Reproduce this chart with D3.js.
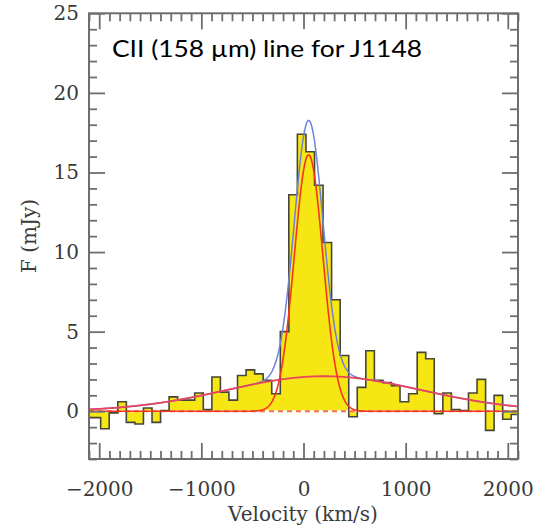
<!DOCTYPE html>
<html>
<head>
<meta charset="utf-8">
<script src="https://cdn.jsdelivr.net/npm/d3@7"></script>
<style>
  html, body { margin: 0; padding: 0; background: #fff; }
  svg { display: block; }
</style>
</head>
<body>
<svg id="chart" width="536" height="528"></svg>
<script>
// ---- data ----
const binWidth = 83.7; // km/s
const binCenters = [-2111, -2028, -1944, -1860, -1776, -1693, -1609, -1525, -1441, -1358,
  -1274, -1190, -1107, -1023, -939, -855, -772, -688, -604, -520,
  -437, -353, -269, -185, -102, -18, 66, 150, 233, 317,
  401, 485, 568, 652, 736, 820, 903, 987, 1071, 1155,
  1238, 1322, 1406, 1490, 1573, 1657, 1741, 1824, 1908, 1992, 2076];
const fluxValues = [-0.4, -0.4, -1.1, -0.1, 0.6, -0.7, -0.8, 0.2, -0.7, 0.05,
  0.9, 0.7, 0.7, 1.15, 0.1, 2.15, 1.2, 0.7, 2.25, 2.6,
  2.35, 1.95, 1.1, 5.0, 13.6, 17.4, 16.3, 14.2, 10.6, 7.0,
  3.5, -0.35, 1.5, 3.8, 1.95, 1.8, 1.6, 0.6, 1.1, 3.7,
  3.3, -0.15, 1.15, 0.1, 0.05, 1.15, 2.0, -1.2, 1.0, -0.5, -0.2];
// Gaussian fit components: [narrow, broad]
const fitAmps = [16.1, 2.2];
const fitCenters = [50, 200];
const fitSigmas = [140, 950];
const xTickLabels = [-2000, -1000, 0, 1000, 2000];
const yTickLabels = [0, 5, 10, 15, 20, 25];
const titleText = "CII (158 \u00b5m) line for J1148";

// ---- layout ----
const svg = d3.select("#chart");
const L = 89, R = 518, T = 13.3, B = 459;
const x = d3.scaleLinear().domain([-2100, 2100]).range([L, R]);
const y = d3.scaleLinear().domain([-3, 25]).range([B, T]);
const serif = "'DejaVu Serif', serif";
const axisCol = "#6e6e6e";

svg.append("defs").append("clipPath").attr("id", "plotclip")
  .append("rect").attr("x", L).attr("y", T).attr("width", R - L).attr("height", B - T);

const plot = svg.append("g").attr("clip-path", "url(#plotclip)");

// histogram step points
const pts = [];
binCenters.forEach((c, i) => {
  pts.push([c - binWidth / 2, fluxValues[i]]);
  pts.push([c + binWidth / 2, fluxValues[i]]);
});

plot.append("path")
  .datum(pts)
  .attr("d", d3.area().x(d => x(d[0])).y0(y(0)).y1(d => y(d[1])))
  .attr("fill", "#f6e614");

// zero line (dashed)
plot.append("line").attr("x1", L).attr("x2", R).attr("y1", y(0)).attr("y2", y(0))
  .attr("stroke", "#fff").attr("stroke-width", 2);
plot.append("line").attr("x1", L).attr("x2", R).attr("y1", y(0)).attr("y2", y(0))
  .attr("stroke", "#f2704a").attr("stroke-width", 2).attr("stroke-dasharray", "5,4");

plot.append("path")
  .datum(pts)
  .attr("d", d3.line().x(d => x(d[0])).y(d => y(d[1])))
  .attr("fill", "none")
  .attr("stroke", "#45453a")
  .attr("stroke-width", 1.6)
  .attr("stroke-linejoin", "miter");

// fit curves
const gauss = (v, k) => fitAmps[k] * Math.exp(-0.5 * Math.pow((v - fitCenters[k]) / fitSigmas[k], 2));
const vs = d3.range(-2100, 2101, 4);
const curveLine = d3.line().x(d => x(d[0])).y(d => y(d[1])).curve(d3.curveLinear);

plot.append("path")
  .datum(vs.map(v => [v, gauss(v, 0) + gauss(v, 1)]))
  .attr("d", curveLine).attr("fill", "none")
  .attr("stroke", "#6b82d6").attr("stroke-width", 1.5);
plot.append("path")
  .datum(vs.map(v => [v, gauss(v, 1)]))
  .attr("d", curveLine).attr("fill", "none")
  .attr("stroke", "#e8455c").attr("stroke-width", 1.8);
plot.append("path")
  .datum(vs.map(v => [v, gauss(v, 0)]))
  .attr("d", curveLine).attr("fill", "none")
  .attr("stroke", "#f5361c").attr("stroke-width", 1.6);

// ---- axes ----
const xMinor = d3.range(-2100, 2101, 100).filter(v => v % 1000 !== 0);
const yMinor = d3.range(-3, 26, 1).filter(v => v % 5 !== 0);
const yMajorAll = [0, 5, 10, 15, 20, 25];

function styleAxis(g) {
  g.select(".domain").remove();
  g.selectAll(".tick line").attr("stroke", axisCol).attr("stroke-width", 1.8);
  g.selectAll("text").attr("font-family", serif).attr("font-size", 20).attr("fill", "#3a3a3a");
}

// bottom
svg.append("g").attr("transform", `translate(0,${B})`)
  .call(d3.axisBottom(x).tickValues(xTickLabels).tickSizeInner(-16).tickSizeOuter(0).tickPadding(23)
    .tickFormat(d => d < 0 ? "\u2212" + Math.abs(d) : String(d)))
  .call(styleAxis);
svg.append("g").attr("transform", `translate(0,${B})`)
  .call(d3.axisBottom(x).tickValues(xMinor).tickSizeInner(-8).tickSizeOuter(0).tickFormat(""))
  .call(styleAxis);
// top
svg.append("g").attr("transform", `translate(0,${T})`)
  .call(d3.axisTop(x).tickValues(xTickLabels).tickSizeInner(-16).tickSizeOuter(0).tickFormat(""))
  .call(styleAxis);
svg.append("g").attr("transform", `translate(0,${T})`)
  .call(d3.axisTop(x).tickValues(xMinor).tickSizeInner(-8).tickSizeOuter(0).tickFormat(""))
  .call(styleAxis);
// left
svg.append("g").attr("transform", `translate(${L},0)`)
  .call(d3.axisLeft(y).tickValues(yTickLabels).tickSizeInner(-16).tickSizeOuter(0).tickPadding(10))
  .call(styleAxis);
svg.append("g").attr("transform", `translate(${L},0)`)
  .call(d3.axisLeft(y).tickValues(yMinor).tickSizeInner(-8).tickSizeOuter(0).tickFormat(""))
  .call(styleAxis);
// right
svg.append("g").attr("transform", `translate(${R},0)`)
  .call(d3.axisRight(y).tickValues(yMajorAll).tickSizeInner(-16).tickSizeOuter(0).tickFormat(""))
  .call(styleAxis);
svg.append("g").attr("transform", `translate(${R},0)`)
  .call(d3.axisRight(y).tickValues(yMinor).tickSizeInner(-8).tickSizeOuter(0).tickFormat(""))
  .call(styleAxis);

// frame
svg.append("rect").attr("x", L).attr("y", T).attr("width", R - L).attr("height", B - T)
  .attr("fill", "none").attr("stroke", axisCol).attr("stroke-width", 2);

// axis titles
svg.append("text").attr("x", 303).attr("y", 521).attr("text-anchor", "middle")
  .attr("font-family", serif).attr("font-size", 20).attr("fill", "#3a3a3a")
  .text("Velocity (km/s)");
svg.append("text").attr("transform", "translate(36,236) rotate(-90)").attr("text-anchor", "middle")
  .attr("font-family", serif).attr("font-size", 20).attr("fill", "#3a3a3a")
  .text("F (mJy)");

// title
svg.append("text").attr("x", 112).attr("y", 57)
  .attr("font-family", "Lato, 'Open Sans', sans-serif").attr("font-size", 24).attr("fill", "#000")
  .attr("textLength", 310).attr("lengthAdjust", "spacingAndGlyphs")
  .text(titleText);
</script>
</body>
</html>
